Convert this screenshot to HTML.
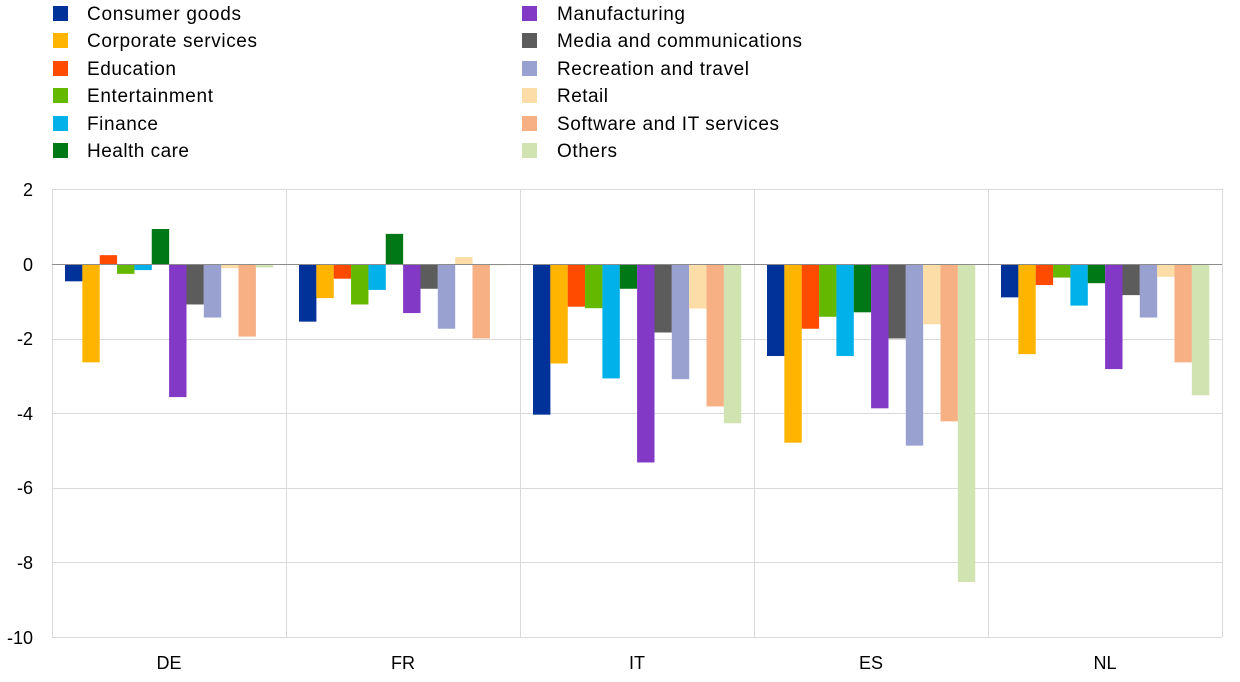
<!DOCTYPE html>
<html><head><meta charset="utf-8"><style>
body{margin:0;background:#fff;}
svg{display:block;font-family:"Liberation Sans",Arial,sans-serif;}
</style></head><body>
<svg width="1240" height="682" viewBox="0 0 1240 682" xmlns="http://www.w3.org/2000/svg">
<g font-size="19" fill="#000" lengthAdjust="spacingAndGlyphs">
<rect x="53" y="6" width="15" height="15" fill="#003299"/><text x="87" y="20" textLength="154">Consumer goods</text>
<rect x="53" y="33" width="15" height="15" fill="#ffb400"/><text x="87" y="47" textLength="170">Corporate services</text>
<rect x="53" y="61" width="15" height="15" fill="#ff4b00"/><text x="87" y="75" textLength="89">Education</text>
<rect x="53" y="88" width="15" height="15" fill="#65b800"/><text x="87" y="102" textLength="126">Entertainment</text>
<rect x="53" y="116" width="15" height="15" fill="#00b1ea"/><text x="87" y="130" textLength="71">Finance</text>
<rect x="53" y="143" width="15" height="15" fill="#007816"/><text x="87" y="157" textLength="102">Health care</text>
<rect x="522" y="6" width="15" height="15" fill="#8139c6"/><text x="557" y="20" textLength="128">Manufacturing</text>
<rect x="522" y="33" width="15" height="15" fill="#5c5c5c"/><text x="557" y="47" textLength="245">Media and communications</text>
<rect x="522" y="61" width="15" height="15" fill="#98a1d0"/><text x="557" y="75" textLength="192">Recreation and travel</text>
<rect x="522" y="88" width="15" height="15" fill="#fdddA7"/><text x="557" y="102" textLength="51">Retail</text>
<rect x="522" y="116" width="15" height="15" fill="#f6b084"/><text x="557" y="130" textLength="222">Software and IT services</text>
<rect x="522" y="143" width="15" height="15" fill="#d1e3b0"/><text x="557" y="157" textLength="60">Others</text>
</g>
<g stroke="#d9d9d9" stroke-width="1">
<line x1="52" y1="189.5" x2="1222" y2="189.5"/>
<line x1="52" y1="339.5" x2="1222" y2="339.5"/>
<line x1="52" y1="413.5" x2="1222" y2="413.5"/>
<line x1="52" y1="488.5" x2="1222" y2="488.5"/>
<line x1="52" y1="562.5" x2="1222" y2="562.5"/>
<line x1="52" y1="637.5" x2="1222" y2="637.5"/>
<line x1="52.5" y1="189" x2="52.5" y2="637"/>
<line x1="1222.5" y1="189" x2="1222.5" y2="637"/>
<line x1="286.5" y1="189" x2="286.5" y2="637"/>
<line x1="520.5" y1="189" x2="520.5" y2="637"/>
<line x1="754.5" y1="189" x2="754.5" y2="637"/>
<line x1="988.5" y1="189" x2="988.5" y2="637"/>
</g>
<g font-size="18" text-anchor="end">
<text x="33" y="196">2</text><text x="33" y="271">0</text><text x="33" y="345">-2</text>
<text x="33" y="420">-4</text><text x="33" y="494">-6</text><text x="33" y="569">-8</text><text x="33" y="644">-10</text>
</g>
<g font-size="18" text-anchor="middle">
<text x="169" y="669">DE</text><text x="403" y="669">FR</text><text x="637" y="669">IT</text><text x="871" y="669">ES</text><text x="1105" y="669">NL</text>
</g>
<g transform="translate(65,0)">
<rect x="0" y="264.5" width="17.4" height="16.81" fill="#003299"/>
<rect x="17.35" y="264.5" width="17.4" height="97.86" fill="#ffb400"/>
<rect x="34.7" y="255.16" width="17.4" height="9.34" fill="#ff4b00"/>
<rect x="52.05" y="264.5" width="17.4" height="9.34" fill="#65b800"/>
<rect x="69.4" y="264.5" width="17.4" height="5.6" fill="#00b1ea"/>
<rect x="86.75" y="229.02" width="17.4" height="35.48" fill="#007816"/>
<rect x="104.1" y="264.5" width="17.4" height="132.59" fill="#8139c6"/>
<rect x="121.45" y="264.5" width="17.4" height="39.96" fill="#5c5c5c"/>
<rect x="138.8" y="264.5" width="17.4" height="53.04" fill="#98a1d0"/>
<rect x="156.15" y="264.5" width="17.4" height="3.74" fill="#fdddA7"/>
<rect x="173.5" y="264.5" width="17.4" height="72.09" fill="#f6b084"/>
<rect x="190.85" y="264.5" width="17.4" height="2.99" fill="#d1e3b0"/>
</g>
<g transform="translate(299,0)">
<rect x="0" y="264.5" width="17.4" height="57.15" fill="#003299"/>
<rect x="17.35" y="264.5" width="17.4" height="33.62" fill="#ffb400"/>
<rect x="34.7" y="264.5" width="17.4" height="14.19" fill="#ff4b00"/>
<rect x="52.05" y="264.5" width="17.4" height="39.96" fill="#65b800"/>
<rect x="69.4" y="264.5" width="17.4" height="25.4" fill="#00b1ea"/>
<rect x="86.75" y="233.87" width="17.4" height="30.63" fill="#007816"/>
<rect x="104.1" y="264.5" width="17.4" height="48.56" fill="#8139c6"/>
<rect x="121.45" y="264.5" width="17.4" height="24.28" fill="#5c5c5c"/>
<rect x="138.8" y="264.5" width="17.4" height="64.24" fill="#98a1d0"/>
<rect x="156.15" y="257.03" width="17.4" height="7.47" fill="#fdddA7"/>
<rect x="173.5" y="264.5" width="17.4" height="73.95" fill="#f6b084"/>
<rect x="190.85" y="264.5" width="17.4" height="0.75" fill="#d1e3b0"/>
</g>
<g transform="translate(533,0)">
<rect x="0" y="264.5" width="17.4" height="150.15" fill="#003299"/>
<rect x="17.35" y="264.5" width="17.4" height="98.98" fill="#ffb400"/>
<rect x="34.7" y="264.5" width="17.4" height="42.21" fill="#ff4b00"/>
<rect x="52.05" y="264.5" width="17.4" height="43.7" fill="#65b800"/>
<rect x="69.4" y="264.5" width="17.4" height="113.92" fill="#00b1ea"/>
<rect x="86.75" y="264.5" width="17.4" height="24.28" fill="#007816"/>
<rect x="104.1" y="264.5" width="17.4" height="197.96" fill="#8139c6"/>
<rect x="121.45" y="264.5" width="17.4" height="67.98" fill="#5c5c5c"/>
<rect x="138.8" y="264.5" width="17.4" height="114.66" fill="#98a1d0"/>
<rect x="156.15" y="264.5" width="17.4" height="44.07" fill="#fdddA7"/>
<rect x="173.5" y="264.5" width="17.4" height="141.93" fill="#f6b084"/>
<rect x="190.85" y="264.5" width="17.4" height="158.74" fill="#d1e3b0"/>
</g>
<g transform="translate(767,0)">
<rect x="0" y="264.5" width="17.4" height="91.51" fill="#003299"/>
<rect x="17.35" y="264.5" width="17.4" height="178.16" fill="#ffb400"/>
<rect x="34.7" y="264.5" width="17.4" height="64.24" fill="#ff4b00"/>
<rect x="52.05" y="264.5" width="17.4" height="52.29" fill="#65b800"/>
<rect x="69.4" y="264.5" width="17.4" height="91.51" fill="#00b1ea"/>
<rect x="86.75" y="264.5" width="17.4" height="47.81" fill="#007816"/>
<rect x="104.1" y="264.5" width="17.4" height="143.8" fill="#8139c6"/>
<rect x="121.45" y="264.5" width="17.4" height="73.95" fill="#5c5c5c"/>
<rect x="138.8" y="264.5" width="17.4" height="181.15" fill="#98a1d0"/>
<rect x="156.15" y="264.5" width="17.4" height="59.76" fill="#fdddA7"/>
<rect x="173.5" y="264.5" width="17.4" height="156.87" fill="#f6b084"/>
<rect x="190.85" y="264.5" width="17.4" height="317.48" fill="#d1e3b0"/>
</g>
<g transform="translate(1001,0)">
<rect x="0" y="264.5" width="17.4" height="32.87" fill="#003299"/>
<rect x="17.35" y="264.5" width="17.4" height="89.64" fill="#ffb400"/>
<rect x="34.7" y="264.5" width="17.4" height="20.54" fill="#ff4b00"/>
<rect x="52.05" y="264.5" width="17.4" height="13.07" fill="#65b800"/>
<rect x="69.4" y="264.5" width="17.4" height="41.09" fill="#00b1ea"/>
<rect x="86.75" y="264.5" width="17.4" height="18.68" fill="#007816"/>
<rect x="104.1" y="264.5" width="17.4" height="104.58" fill="#8139c6"/>
<rect x="121.45" y="264.5" width="17.4" height="30.63" fill="#5c5c5c"/>
<rect x="138.8" y="264.5" width="17.4" height="53.04" fill="#98a1d0"/>
<rect x="156.15" y="264.5" width="17.4" height="12.33" fill="#fdddA7"/>
<rect x="173.5" y="264.5" width="17.4" height="97.86" fill="#f6b084"/>
<rect x="190.85" y="264.5" width="17.4" height="130.73" fill="#d1e3b0"/>
</g>
<line x1="52" y1="264.5" x2="1222" y2="264.5" stroke="#8c8c8c" stroke-width="1"/>
</svg>
</body></html>
